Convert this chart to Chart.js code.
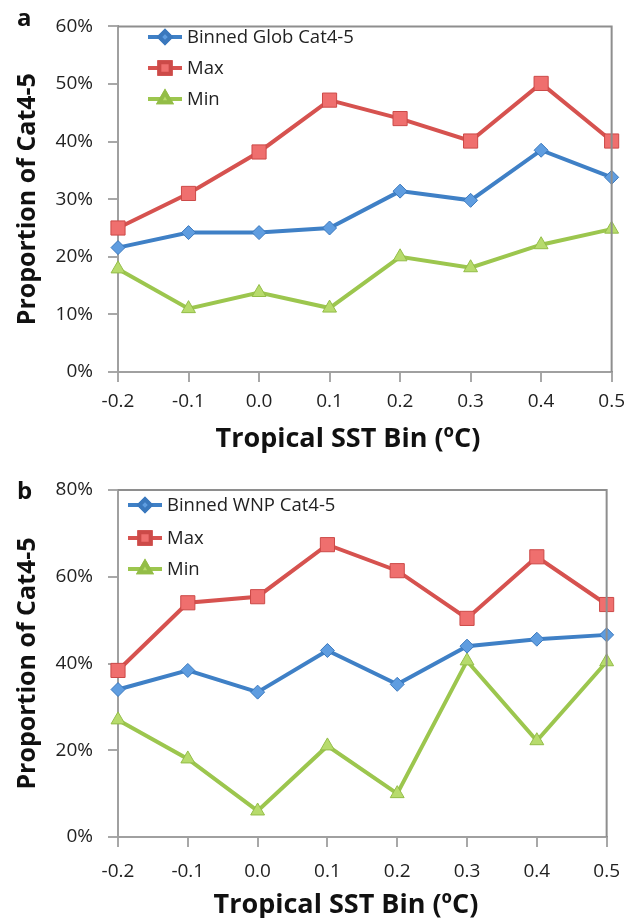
<!DOCTYPE html>
<html>
<head>
<meta charset="utf-8">
<script src="https://cdn.jsdelivr.net/npm/chart.js@4"></script>
<style>
  html, body { margin: 0; padding: 0; background: #fff; }
  body { width: 633px; height: 918px; position: relative; overflow: hidden; }
  .wrap { position: absolute; left: 0; width: 633px; }
  #wa { top: 0; height: 455px; }
  #wb { top: 455px; height: 463px; }
  canvas { display: block; }
</style>
</head>
<body>
<div class="wrap" id="wa"><canvas id="ca" width="633" height="455"></canvas></div>
<div class="wrap" id="wb"><canvas id="cb" width="633" height="463"></canvas></div>
<script>
// ---- Data ----
const categories = ["-0.2", "-0.1", "0.0", "0.1", "0.2", "0.3", "0.4", "0.5"];

// Panel a (global)
const globBinned = [21.6, 24.2, 24.2, 25.0, 31.4, 29.8, 38.5, 33.8];
const globMax    = [25.0, 31.0, 38.2, 47.2, 44.0, 40.1, 50.1, 40.1];
const globMin    = [17.9, 11.0, 13.8, 11.1, 20.0, 18.1, 22.1, 24.8];
const yTicksA = [0, 10, 20, 30, 40, 50, 60];

// Panel b (WNP)
const wnpBinned = [34.0, 38.4, 33.4, 43.0, 35.2, 44.0, 45.6, 46.6];
const wnpMax    = [38.4, 54.0, 55.4, 67.4, 61.4, 50.4, 64.6, 53.6];
const wnpMin    = [27.0, 18.0, 6.0, 21.0, 10.0, 40.6, 22.2, 40.4];
const yTicksB = [0, 20, 40, 60, 80];

// ---- Styles ----
const FONT = "'Open Sans', 'Liberation Sans', sans-serif";
const styles = {
  blue:  { line: '#3f80c6', fill: '#5f9de0', edge: '#3a78bd', shape: 'rectRot', r: 7 },
  red:   { line: '#d6524f', fill: '#ef6f6e', edge: '#cc4a48', shape: 'rect', r: 10 },
  green: { line: '#9cc64e', fill: '#b7db6c', edge: '#93bd47', shape: 'triangle', r: 8 }
};

function ds(label, data, st) {
  return {
    label, data,
    borderColor: st.line,
    backgroundColor: st.fill,
    borderWidth: 4,
    pointStyle: st.shape,
    pointRadius: st.r,
    pointHoverRadius: st.r,
    pointBackgroundColor: st.fill,
    pointBorderColor: st.edge,
    pointBorderWidth: 1,
    tension: 0,
    clip: false
  };
}

// Plugin: frame around plot, axis titles, panel letter, inline legend
const decorPlugin = {
  id: 'decor',
  afterDraw(chart, args, opts) {
    const ctx = chart.ctx;
    const ca = chart.chartArea;
    ctx.save();
    // frame (top & right)
    ctx.strokeStyle = '#8e8e8e';
    ctx.lineWidth = 2;
    ctx.beginPath();
    ctx.moveTo(ca.left, ca.top);
    ctx.lineTo(ca.right, ca.top);
    ctx.lineTo(ca.right, ca.bottom);
    ctx.stroke();

    // panel letter
    ctx.fillStyle = '#111';
    ctx.font = "bold 24px " + FONT;
    ctx.textAlign = 'left';
    ctx.textBaseline = 'middle';
    ctx.fillText(opts.letter, opts.letterX, opts.letterY);

    // y title
    ctx.font = "bold 25px " + FONT;
    ctx.textAlign = 'center';
    ctx.save();
    ctx.translate(opts.yTitleX, (ca.top + ca.bottom) / 2);
    ctx.rotate(-Math.PI / 2);
    ctx.fillText('Proportion of Cat4-5', 0, 0);
    ctx.restore();

    // x title
    ctx.font = "bold 27px " + FONT;
    ctx.fillText('Tropical SST Bin (\u00BAC)', opts.xTitleX, opts.xTitleY);

    // legend
    ctx.font = "18.5px " + FONT;
    ctx.textAlign = 'left';
    chart.data.datasets.forEach((d, i) => {
      const y = opts.legY[i];
      const x0 = opts.legX;
      ctx.strokeStyle = d.borderColor;
      ctx.lineWidth = 4;
      ctx.beginPath();
      ctx.moveTo(x0, y);
      ctx.lineTo(x0 + 34, y);
      ctx.stroke();
      Chart.helpers.drawPoint(ctx, {
        pointStyle: d.pointStyle,
        radius: d.pointRadius * 0.8,
        borderWidth: 1,
        rotation: 0
      }, x0 + 17, y);
      ctx.fillStyle = d.pointBackgroundColor;
      ctx.strokeStyle = d.pointBorderColor;
      ctx.fill();
      ctx.stroke();
      ctx.fillStyle = '#222';
      ctx.fillText(d.label, x0 + 39, y + 1);
    });
    ctx.restore();
  }
};

function makeChart(id, cfg) {
  return new Chart(document.getElementById(id), {
    type: 'line',
    data: {
      labels: categories,
      datasets: cfg.datasets
    },
    options: {
      responsive: false,
      animation: false,
      events: [],
      layout: { padding: { top: cfg.padTop, right: cfg.padRight, left: 0, bottom: 0 } },
      plugins: {
        legend: { display: false },
        tooltip: { enabled: false },
        decor: cfg.decor
      },
      scales: {
        x: {
          offset: false,
          grid: { display: true, drawOnChartArea: false, drawTicks: true, tickLength: 10, color: '#a8a8a8', lineWidth: 2 },
          border: { display: true, color: '#a0a0a0', width: 2 },
          ticks: { font: { size: 19, family: FONT }, color: '#222', padding: cfg.xPad, maxRotation: 0, autoSkip: false },
          afterFit(scale) { scale.height = cfg.xHeight; }
        },
        y: {
          min: cfg.yTicks[0],
          max: cfg.yTicks[cfg.yTicks.length - 1],
          afterBuildTicks(scale) { scale.ticks = cfg.yTicks.map(v => ({ value: v })); },
          grid: { display: true, drawOnChartArea: false, drawTicks: true, tickLength: 10, color: '#a8a8a8', lineWidth: 2 },
          border: { display: true, color: '#a0a0a0', width: 2 },
          ticks: { font: { size: 19, family: FONT }, color: '#222', padding: 15, callback: v => v + '%' },
          afterFit(scale) { scale.width = 118; }
        }
      }
    },
    plugins: [decorPlugin]
  });
}

makeChart('ca', {
  datasets: [
    ds('Binned Glob Cat4-5', globBinned, styles.blue),
    ds('Max', globMax, styles.red),
    ds('Min', globMin, styles.green)
  ],
  yTicks: yTicksA,
  padTop: 20, padRight: 17, xHeight: 83, xPad: 8,
  decor: { letter: 'a', letterX: 17, letterY: 19, yTitleX: 28, xTitleX: 348, xTitleY: 439, legX: 148, legY: [37, 68, 99] }
});

makeChart('cb', {
  datasets: [
    ds('Binned WNP Cat4-5', wnpBinned, styles.blue),
    ds('Max', wnpMax, styles.red),
    ds('Min', wnpMin, styles.green)
  ],
  yTicks: yTicksB,
  padTop: 35, padRight: 25, xHeight: 81, xPad: 13,
  decor: { letter: 'b', letterX: 17, letterY: 37, yTitleX: 28, xTitleX: 346, xTitleY: 450, legX: 128, legY: [50, 83, 114] }
});
</script>
</body>
</html>
